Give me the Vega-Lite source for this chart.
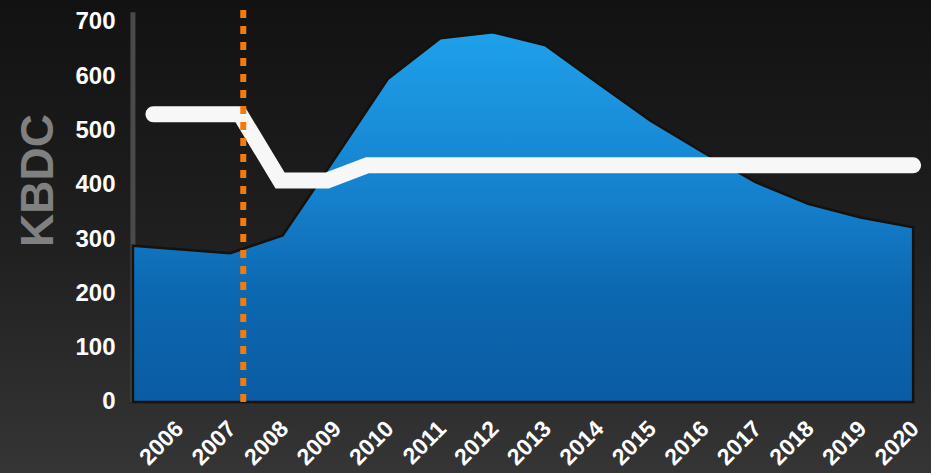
{
  "$schema": "https://vega.github.io/schema/vega-lite/v6.json",
  "width": 931,
  "height": 473,
  "autosize": {"type": "none"},
  "padding": 0,
  "background": "#222222",
  "view": {
    "fill": {"gradient": "linear", "x1": 0, "y1": 0, "x2": 0, "y2": 1,
      "stops": [{"offset": 0, "color": "#121212"}, {"offset": 0.5, "color": "#1f1f1f"}, {"offset": 1, "color": "#353535"}]},
    "stroke": null
  },
  "datasets": {
    "volume": [
      {"year": 2005.15, "kbdc": 288},
      {"year": 2007, "kbdc": 274},
      {"year": 2008, "kbdc": 307},
      {"year": 2009, "kbdc": 450},
      {"year": 2010, "kbdc": 595},
      {"year": 2011, "kbdc": 670},
      {"year": 2012, "kbdc": 681},
      {"year": 2013, "kbdc": 657},
      {"year": 2014, "kbdc": 587},
      {"year": 2015, "kbdc": 518},
      {"year": 2016, "kbdc": 460},
      {"year": 2017, "kbdc": 405},
      {"year": 2018, "kbdc": 365},
      {"year": 2019, "kbdc": 340},
      {"year": 2020, "kbdc": 322}
    ],
    "limit": [
      {"year": 2005.54, "kbdc": 530},
      {"year": 2007.19, "kbdc": 530},
      {"year": 2007.95, "kbdc": 408},
      {"year": 2008.85, "kbdc": 408},
      {"year": 2009.61, "kbdc": 436},
      {"year": 2020, "kbdc": 436}
    ],
    "marker": [{"year": 2007.25, "kbdc": 0, "top": 722}],
    "axisline": [{"year": 2005.15, "kbdc": 0, "top": 718}]
  },
  "encoding": {
    "x": {"field": "year", "type": "quantitative", "scale": {"domain": [2002.62, 2020.34], "nice": false, "zero": false},
      "axis": {"values": [2006, 2007, 2008, 2009, 2010, 2011, 2012, 2013, 2014, 2015, 2016, 2017, 2018, 2019, 2020],
        "format": "d", "labelAngle": -45, "labelColor": "#ffffff", "labelFont": "Liberation Sans", "labelFontWeight": "bold",
        "labelFontSize": 23, "ticks": false, "domain": false, "grid": false, "offset": -71, "labelPadding": 15,
        "labelOffset": -6, "labelFlush": false, "labelBound": false, "labelOverlap": false, "title": null}},
    "y": {"field": "kbdc", "type": "quantitative", "scale": {"domain": [-130.8, 740.5], "nice": false, "zero": false},
      "axis": {"values": [0, 100, 200, 300, 400, 500, 600, 700], "labelColor": "#ffffff", "labelFont": "Liberation Sans",
        "labelFontWeight": "bold", "labelFontSize": 24, "ticks": false, "domain": false, "grid": false, "offset": -133,
        "labelPadding": 18, "labelFlush": false, "labelBound": false, "labelOverlap": false,
        "title": "KBDC", "titleColor": "#808080", "titleFont": "Liberation Sans", "titleFontSize": 46, "titleFontWeight": "bold",
        "titleX": -95, "titleY": 180, "titleAngle": 270, "titleAlign": "center", "titleBaseline": "middle"}}
  },
  "layer": [
    {
      "data": {"name": "axisline"},
      "mark": {"type": "rule", "color": "#4a4a4a", "strokeWidth": 5},
      "encoding": {"y2": {"field": "top"}}
    },
    {
      "data": {"name": "volume"},
      "mark": {
        "type": "area",
        "interpolate": "linear",
        "fill": {"gradient": "linear", "x1": 0, "y1": 0, "x2": 0, "y2": 1,
          "stops": [{"offset": 0, "color": "#1fa0ea"}, {"offset": 0.45, "color": "#1580cc"}, {"offset": 0.7, "color": "#0c68b0"}, {"offset": 1, "color": "#0a5ca2"}]},
        "stroke": "#16110d",
        "strokeWidth": 2.5
      },
      "encoding": {"y2": {"datum": 0}}
    },
    {
      "data": {"name": "limit"},
      "mark": {"type": "line", "color": "#f7f7f7", "strokeWidth": 16, "strokeCap": "round", "strokeJoin": "miter"},
      "encoding": {}
    },
    {
      "data": {"name": "marker"},
      "mark": {"type": "rule", "color": "#f47a0c", "strokeWidth": 6, "strokeDash": [8, 8]},
      "encoding": {"y2": {"field": "top"}}
    }
  ]
}
